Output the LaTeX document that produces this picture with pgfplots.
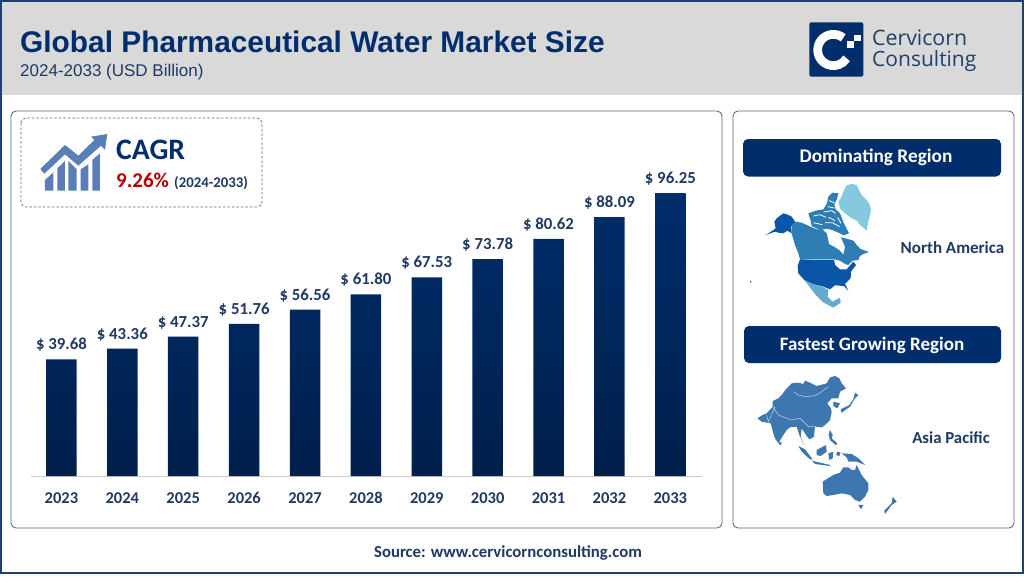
\documentclass[border=0pt]{standalone}
\usepackage{fontspec}
\usepackage{pgfplots}
\pgfplotsset{compat=1.18}
\setmainfont{Carlito}
\newfontfamily\arialf{Liberation Sans}
\newfontfamily\logof{Open Sans}
\definecolor{navy}{HTML}{002D6B}
\definecolor{ink}{HTML}{1F3864}
\definecolor{rim}{HTML}{1F3F6E}
\definecolor{panel}{HTML}{5A6B80}
\definecolor{iconblue}{HTML}{5B7DB8}
\definecolor{apac}{HTML}{3E76B0}
\definecolor{naUS}{HTML}{0A55A5}
\definecolor{naCA}{HTML}{2F7DB5}
\definecolor{naMX}{HTML}{64AACE}
\definecolor{naGL}{HTML}{85C9DF}
\newcommand{\fs}[1]{\fontsize{#1}{#1}\selectfont}
\pgfplotstableread{
idx value
0 39.68
1 43.36
2 47.37
3 51.76
4 56.56
5 61.80
6 67.53
7 73.78
8 80.62
9 88.09
10 96.25
}\marketdata
\begin{document}
\begin{tikzpicture}[x=1pt,y=-1pt]
\path[use as bounding box] (0,0) rectangle (1024,576);
\fill[white] (0,0) rectangle (1024,576);
\fill[black!15] (2,2) rectangle (1022,95);
\draw[rim,line width=1.6pt] (1,1) rectangle (1023,573);
% header
\node[anchor=base west,inner sep=0pt,text=navy,font=\arialf\bfseries\fs{29.85}] at (20,52) {Global Pharmaceutical Water Market Size};
\node[anchor=base west,inner sep=0pt,text=ink,font=\arialf\fs{17}] at (20,76) {2024-2033 (USD Billion)};
% logo
\begin{scope}[shift={(800,15)},x=0.3333pt,y=-0.3333pt]
\fill[navy,rounded corners=2pt] (28,22) rectangle (190,185);
\draw[white,line width=8.7pt] (129.6,68.5) arc[start angle=-51,end angle=-328,radius=47];
\fill[white] (140,78) rectangle (163,100);
\fill[white] (163,60) rectangle (182,78);
\end{scope}
\node[anchor=base west,inner sep=0pt,text=rim,font=\logof\fs{21.3}] at (872,45) {Cervicorn};
\node[anchor=base west,inner sep=0pt,text=rim,font=\logof\fs{21}] at (872,66) {Consulting};
% panels
\draw[panel,line width=0.9pt,rounded corners=5pt] (11,111) rectangle (722,528);
\draw[panel,line width=0.9pt,rounded corners=5pt] (733,111) rectangle (1014,528);
\draw[black!60,line width=0.7pt,dashed,dash pattern=on 2.5pt off 2pt,rounded corners=5pt] (21,118) rectangle (262,207);
% CAGR icon
\begin{scope}[shift={(35,125)},x=0.3333pt,y=-0.3333pt]
\fill[iconblue] (30,165)--(55,142)--(55,197)--(30,197)--cycle;
\fill[iconblue] (67,130)--(90,108)--(90,197)--(67,197)--cycle;
\fill[iconblue] (100,108)--(125,133)--(125,197)--(100,197)--cycle;
\fill[iconblue] (137,133)--(160,118)--(160,197)--(137,197)--cycle;
\fill[iconblue] (172,105)--(195,85)--(195,197)--(172,197)--cycle;
\fill[iconblue] (16,132)--(90,60)--(130,92)--(178,45)--(168,35)--(217,27)--(210,75)--(198,62)--(130,122)--(90,88)--(28,146)--cycle;
\end{scope}
\node[anchor=base west,inner sep=0pt,text=navy,font=\bfseries\fs{29.7}] at (116,159) {CAGR};
\node[anchor=base west,inner sep=0pt,text=red!70!black,font=\bfseries\fs{21}] at (116,187) {9.26\%};
\node[anchor=base west,inner sep=0pt,text=ink,font=\bfseries\fs{14.8}] at (174,187) {(2024-2033)};
% region buttons
\fill[navy,rounded corners=5pt] (743,139) rectangle (1001,176.5);
\fill[navy,rounded corners=5pt] (744,326) rectangle (1001,363);
\node[text=white,font=\bfseries\fs{19.3},inner sep=0pt] at (876,157.5) {Dominating Region};
\node[text=white,font=\bfseries\fs{19},inner sep=0pt] at (872,345) {Fastest Growing Region};
\node[text=ink,font=\bfseries\fs{17},inner sep=0pt,anchor=base] at (952.5,253) {North America};
\node[text=ink,font=\bfseries\fs{16.8},inner sep=0pt,anchor=base] at (951,443) {Asia Pacific};
% North America map
\begin{scope}[shift={(745,180)},x=0.3333pt,y=-0.3333pt]
\fill[naGL] (305,15)--(320,12)--(335,15)--(342,30)--(350,45)--(365,60)--(375,75)--(378,90)--(375,105)--(370,125)--(365,152)--(352,140)--(345,135)--(335,122)--(320,115)--(300,100)--(285,85)--(280,65)--(290,50)--(295,35)--cycle;
% Arctic archipelago
\fill[naCA] (190,100)--(212,92)--(235,88)--(246,70)--(250,50)--(262,38)--(280,40)--(276,58)--(268,72)--(272,88)--(285,100)--(296,128)--(312,160)--(296,166)--(280,158)--(262,150)--(245,146)--(225,150)--(200,138)--(196,118)--cycle;
\draw[white,line width=0.8pt] (205,108)--(225,104)--(243,112) (236,96)--(260,92)--(272,100) (252,62)--(268,68) (248,80)--(268,84) (240,128)--(262,128)--(284,140) (205,128)--(232,134) (250,112)--(270,122) (278,112)--(288,130);
% Canada mainland with Hudson Bay
\fill[naCA] (140,135)--(150,125)--(170,128)--(192,138)--(215,148)--(232,148)--(245,160)--(248,172)--(252,192)--(272,203)--(285,212)--(295,224)--(300,200)--(292,182)--(288,172)--(305,176)--(325,182)--(335,195)--(347,207)--(372,216)--(355,222)--(345,228)--(340,240)--(322,242)--(310,255)--(292,250)--(280,240)--(265,238)--(215,238)--(165,238)--(160,220)--(150,195)--(140,160)--cycle;
% Alaska
\fill[naUS] (115,100)--(128,104)--(140,110)--(150,125)--(138,140)--(140,160)--(127,152)--(115,160)--(100,158)--(90,155)--(62,165)--(78,155)--(92,145)--(88,125)--(95,115)--cycle;
% Mexico
\fill[naMX] (178,300)--(205,312)--(235,322)--(250,330)--(248,350)--(262,365)--(285,353)--(287,368)--(265,383)--(235,367)--(212,345)--(195,322)--cycle;
% USA
\fill[naUS] (165,238)--(215,240)--(268,240)--(270,255)--(278,262)--(285,268)--(305,268)--(325,245)--(333,255)--(318,275)--(317,295)--(300,312)--(310,332)--(297,318)--(270,316)--(255,328)--(235,320)--(205,312)--(178,300)--(160,280)--(158,258)--cycle;
\fill[white] (268,243)--(285,243)--(300,252)--(290,262)--(278,256)--(272,250)--cycle;
\fill[naUS!70!black] (17,305) circle (0.8pt);
\end{scope}
% Asia Pacific map
\begin{scope}[shift={(750,370)},x=0.3333pt,y=-0.3333pt]
\fill[apac] (22,145)--(38,135)--(50,130)--(68,110)--(68,93)--(85,85)--(95,75)--(110,55)--(125,40)--(145,38)--(160,42)--(165,32)--(180,38)--(200,48)--(230,40)--(240,22)--(255,18)--(268,25)--(275,40)--(288,55)--(270,65)--(265,85)--(245,85)--(232,100)--(243,115)--(245,125)--(240,150)--(225,165)--(215,172)--(195,170)--(193,190)--(192,200)--(178,208)--(170,198)--(165,190)--(155,175)--(152,200)--(162,225)--(148,195)--(140,170)--(120,172)--(110,180)--(100,195)--(85,220)--(75,205)--(70,190)--(62,160)--(35,155)--cycle;
\draw[white!70!apac,line width=0.5pt] (130,65)--(145,75)--(165,80)--(190,78)--(205,72)--(235,50);
\draw[white!70!apac,line width=0.5pt] (68,110)--(85,135)--(105,143)--(125,150)--(150,145)--(175,170)--(195,170);
\draw[white!70!apac,line width=0.5pt] (50,135)--(55,155)--(75,110);
\fill[apac] (250,95)--(270,100)--(262,115)--(250,108)--cycle;
\fill[apac] (315,68)--(325,75)--(315,85)--(300,110)--(275,128)--(272,118)--(298,105)--(310,88)--cycle;
\fill[apac] (240,180)--(248,195)--(245,205)--(262,220)--(258,226)--(240,210)--(236,195)--cycle;
\fill[apac] (88,215)--(95,218)--(92,226)--(87,222)--cycle;
\fill[apac] (145,228)--(165,238)--(188,268)--(180,268)--(155,245)--cycle;
\fill[apac] (185,272)--(240,285)--(240,288)--(195,282)--cycle;
\fill[apac] (200,240)--(228,225)--(230,245)--(212,258)--(200,255)--cycle;
\fill[apac] (235,250)--(250,245)--(248,265)--(238,270)--cycle;
\fill[apac] (262,245)--(272,248)--(268,258)--(258,255)--cycle;
\fill[apac] (275,250)--(305,252)--(325,265)--(345,285)--(320,275)--(295,275)--(290,262)--cycle;
\fill[apac] (218,335)--(250,315)--(270,308)--(280,292)--(295,292)--(305,300)--(315,300)--(320,285)--(335,315)--(355,340)--(355,360)--(345,380)--(330,395)--(315,390)--(300,375)--(275,370)--(250,375)--(230,378)--(220,370)--cycle;
\fill[apac] (325,405)--(340,405)--(333,418)--cycle;
\fill[apac] (428,380)--(440,395)--(425,405)--(405,432)--(403,422)--(425,400)--cycle;
\end{scope}
% source
\node[text=ink,font=\bfseries\fs{16.75},inner sep=0pt,anchor=base] at (508,557) {Source: www.cervicornconsulting.com};
% chart
\begin{axis}[
  at={(31pt,-476pt)},anchor=south west,
  scale only axis,width=671pt,height=294pt,
  xmin=-0.5,xmax=10.52,ymin=0,ymax=100,
  axis y line=none,axis x line=bottom,
  axis line style={black!20,-},
  x axis line style={-},
  xtick=data,
  xticklabels={2023,2024,2025,2026,2027,2028,2029,2030,2031,2032,2033},
  xtick style={draw=none},
  xticklabel style={font=\bfseries\fs{16.5},text=ink,yshift=-10pt,text height=10pt,text depth=0pt},
  ybar,bar width=30.5pt,
  clip=false,
  /pgf/number format/assume math mode=true,
  nodes near coords={\$ \pgfmathprintnumber[fixed,fixed zerofill,precision=2]{\pgfplotspointmeta}},
  nodes near coords style={font=\bfseries\fs{16.8},text=ink,inner sep=0pt,yshift=7.5pt},
]
\addplot[draw=none,shade,shading=axis,top color=navy,bottom color=navy!70!black] table[x=idx,y=value] {\marketdata};
\end{axis}
\end{tikzpicture}
\end{document}
